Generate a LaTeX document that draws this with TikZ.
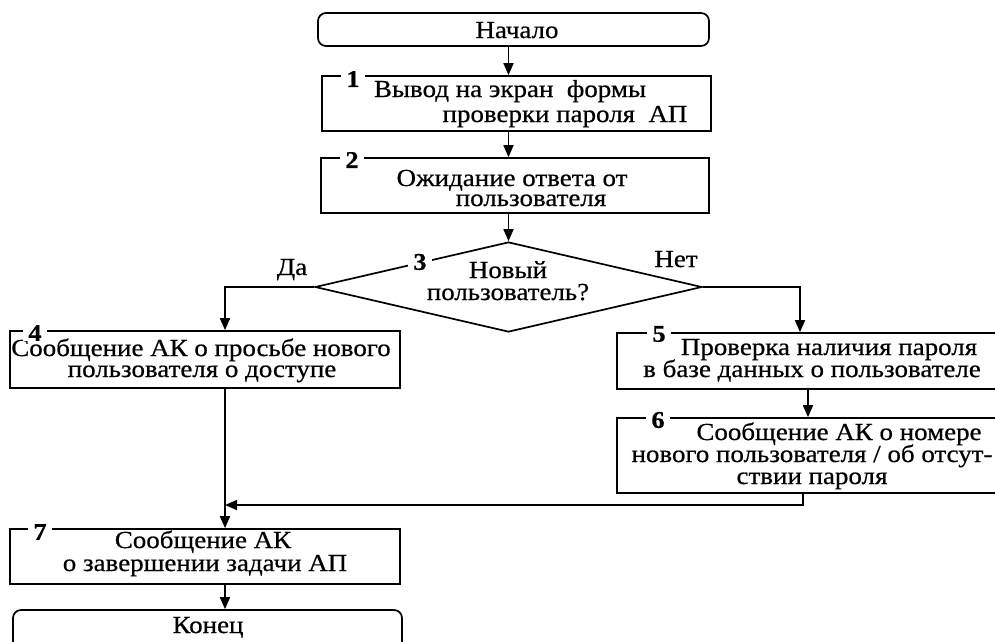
\documentclass[tikz,border=0pt]{standalone}
\usepackage{fontspec}
\setmainfont{Liberation Serif}[FakeStretch=1.1,FakeBold=0.6]
\usetikzlibrary{arrows.meta,shapes.geometric}
\begin{document}
\begin{tikzpicture}[x=1pt,y=-1pt,
  lw/.style={line width=1.7pt},
  blk/.style={draw,lw,rectangle,inner sep=0pt},
  term/.style={blk,rounded corners=8pt},
  dia/.style={draw,lw,diamond,inner sep=0pt},
  txt/.style={inner sep=0pt,anchor=base,font=\fontsize{24.5}{26}\selectfont},
  num/.style={fill=white,inner xsep=5pt,inner ysep=0.5pt,font=\fontsize{24}{26}\selectfont\bfseries},
  arr/.style={lw,-{Triangle[length=12pt,width=10pt]}}]
\useasboundingbox (0,0) rectangle (995,641);
\clip (0,0) rectangle (995,641);
% shapes
\node[term,minimum width=391pt,minimum height=33pt] (start) at (513.5,29.5) {};
\node[blk,minimum width=389pt,minimum height=55pt] (b1) at (516.5,103.5) {};
\node[blk,minimum width=388pt,minimum height=55pt] (b2) at (515,185.5) {};
\node[dia,minimum width=387pt,minimum height=90pt] (d3) at (508.5,287) {};
\node[blk,minimum width=390pt,minimum height=57pt] (b4) at (205,359.5) {};
\node[blk,minimum width=393pt,minimum height=56pt] (b5) at (813.5,361) {};
\node[blk,minimum width=393pt,minimum height=75pt] (b6) at (813.5,455.5) {};
\node[blk,minimum width=390pt,minimum height=55pt] (b7) at (205,556.5) {};
\node[term,minimum width=389pt,minimum height=50pt] (end) at (207.5,635) {};
% helper coordinates
\coordinate (cm) at (508.5,0);
\coordinate (cl) at (225,287);
\coordinate (cr1) at (800,0);
\coordinate (cr2) at (808,0);
\coordinate (cr3) at (803,0);
\coordinate (cj) at (225,505);
% connectors
\draw[arr] (cm |- start.south) -- (cm |- b1.north);
\draw[arr] (cm |- b1.south) -- (cm |- b2.north);
\draw[arr] (cm |- b2.south) -- (d3.north);
\draw[arr] (d3.west) -| (cl |- b4.north);
\draw[arr] (d3.east) -| (cr1 |- b5.north);
\draw[arr] (cr2 |- b5.south) -- (cr2 |- b6.north);
\draw[arr] (cr3 |- b6.south) |- (cj);
\draw[arr] (cl |- b4.south) -- (cl |- b7.north);
\draw[arr] (cl |- b7.south) -- (cl |- end.north);
% texts
\node[txt] (t0) at (517,38) {Начало};
\node[txt] (t1a) at (510,97) {Вывод на экран\ \ формы};
\node[txt] (t1b) at (565,122) {проверки пароля\ \ АП};
\node[txt] (t2a) at (512,186) {Ожидание ответа от};
\node[txt] (t2b) at (531,206) {пользователя};
\node[txt] (t3a) at (508,278) {Новый};
\node[txt] (t3b) at (508,300) {пользователь?};
\node[txt] (t4a) at (201,356) {Сообщение АК о просьбе нового};
\node[txt] (t4b) at (202,377) {пользователя о доступе};
\node[txt] (t5a) at (829,355) {Проверка наличия пароля};
\node[txt] (t5b) at (812,377) {в базе данных о пользователе};
\node[txt] (t6a) at (839,440) {Сообщение АК о номере};
\node[txt] (t6b) at (812,462) {нового пользователя / об отсут-};
\node[txt] (t6c) at (812,484) {ствии пароля};
\node[txt] (t7a) at (203,548) {Сообщение АК};
\node[txt] (t7b) at (205,571) {о завершении задачи АП};
\node[txt] (t8) at (208,633) {Конец};
\node[txt] (lda) at (292,275) {Да};
\node[txt] (lnet) at (676,267) {Нет};
% numbers
\node[num] (n1) at (353,79) {1};
\node[num] (n2) at (352,160) {2};
\node[num] (n3) at (420,262) {3};
\node[num] (n4) at (35,333) {4};
\node[num] (n5) at (659,334) {5};
\node[num] (n6) at (658,420) {6};
\node[num] (n7) at (40,532) {7};
\end{tikzpicture}
\end{document}
